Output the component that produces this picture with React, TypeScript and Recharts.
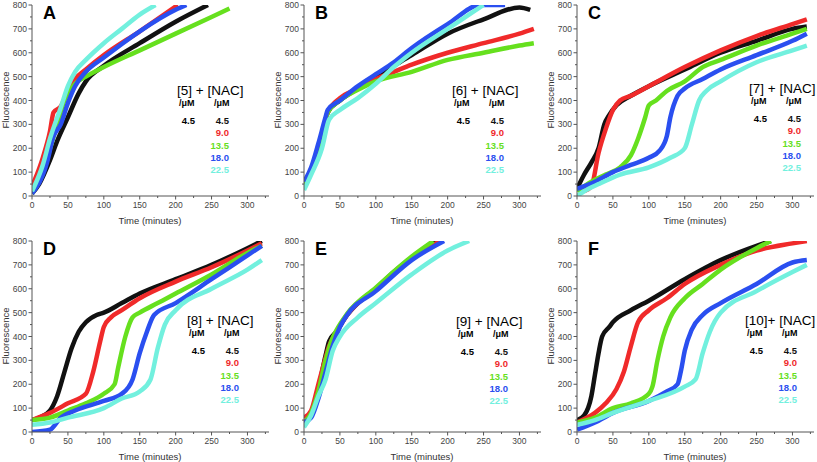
import React from 'react';
import { LineChart, Line, XAxis, YAxis } from 'recharts';

type Pt = [number, number];

// colors used for the five NAC concentrations
const seriesColors = ['#111111', '#f02a2a', '#66e01e', '#2a4ff0', '#72f0de'];
const nacLabels = ['4.5', '9.0', '13.5', '18.0', '22.5'];
const compoundLabels = ['[5] + [NAC]', '[6] + [NAC]', '[7] + [NAC]', '[8] + [NAC]', '[9] + [NAC]', '[10]+ [NAC]'];
const panelLetters = ['A', 'B', 'C', 'D', 'E', 'F'];
const xTicks = [0, 25, 50, 75, 100, 125, 150, 175, 200, 225, 250, 275, 300, 325];
const yTicks = [0, 50, 100, 150, 200, 250, 300, 350, 400, 450, 500, 550, 600, 650, 700, 750, 800];

// Panel A - [5]
const aBlack: Pt[] = [[0, 10], [10, 50], [25, 150], [35, 230], [50, 330], [65, 430], [75, 480], [100, 545], [150, 640], [200, 730], [245, 800]];
const aRed: Pt[] = [[0, 40], [15, 160], [25, 270], [30, 350], [40, 375], [50, 440], [60, 490], [75, 530], [100, 590], [150, 690], [203, 800]];
const aGreen: Pt[] = [[0, 10], [20, 150], [35, 300], [45, 400], [60, 470], [75, 500], [100, 540], [150, 610], [200, 680], [250, 750], [275, 785]];
const aBlue: Pt[] = [[0, 10], [20, 130], [30, 250], [40, 300], [50, 390], [60, 460], [75, 520], [100, 580], [150, 690], [200, 780], [215, 800]];
const aCyan: Pt[] = [[0, 20], [15, 130], [25, 240], [40, 370], [50, 460], [60, 520], [75, 570], [100, 640], [125, 700], [150, 760], [172, 800]];

// Panel B - [6]
const bBlack: Pt[] = [[0, 50], [15, 150], [25, 250], [33, 350], [50, 400], [75, 450], [100, 500], [150, 590], [200, 680], [250, 740], [300, 790], [315, 780]];
const bRed: Pt[] = [[0, 50], [15, 150], [25, 250], [33, 350], [50, 410], [75, 450], [100, 490], [125, 520], [150, 550], [200, 600], [250, 640], [300, 680], [320, 700]];
const bGreen: Pt[] = [[0, 50], [15, 150], [25, 250], [33, 350], [50, 400], [75, 445], [100, 480], [150, 520], [200, 570], [250, 600], [300, 630], [320, 640]];
const bBlue: Pt[] = [[0, 60], [10, 120], [20, 220], [30, 330], [33, 360], [50, 400], [75, 460], [100, 510], [125, 560], [150, 620], [200, 720], [246, 800], [280, 800]];
const bCyan: Pt[] = [[0, 25], [10, 90], [25, 200], [35, 320], [50, 360], [75, 410], [100, 470], [125, 540], [150, 600], [200, 700], [250, 800]];

// Panel C - [7]
const cBlack: Pt[] = [[0, 30], [10, 90], [20, 140], [30, 200], [38, 300], [45, 340], [55, 380], [75, 420], [100, 460], [150, 530], [200, 600], [250, 650], [300, 700], [320, 710]];
const cRed: Pt[] = [[10, 20], [20, 40], [30, 180], [40, 280], [50, 360], [60, 400], [75, 420], [100, 460], [150, 540], [200, 610], [250, 670], [300, 720], [320, 740]];
const cGreen: Pt[] = [[0, 20], [20, 60], [40, 90], [60, 120], [75, 170], [85, 240], [95, 330], [100, 380], [110, 400], [125, 440], [150, 480], [175, 540], [200, 570], [250, 630], [300, 680], [320, 700]];
const cBlue: Pt[] = [[0, 30], [25, 60], [50, 100], [75, 130], [100, 160], [115, 190], [125, 250], [130, 330], [140, 420], [150, 450], [175, 490], [200, 530], [250, 590], [300, 650], [320, 680]];
const cCyan: Pt[] = [[0, 0], [10, 20], [30, 50], [60, 90], [100, 120], [130, 160], [150, 200], [160, 300], [170, 400], [180, 440], [200, 480], [250, 560], [300, 610], [320, 630]];

// Panel D - [8]
const dBlack: Pt[] = [[0, 50], [10, 60], [25, 90], [35, 150], [45, 250], [55, 350], [65, 420], [75, 460], [90, 490], [100, 500], [125, 540], [150, 580], [200, 640], [250, 700], [300, 770], [320, 800]];
const dRed: Pt[] = [[0, 50], [25, 80], [50, 120], [75, 160], [85, 250], [95, 380], [100, 440], [110, 480], [125, 510], [150, 560], [200, 630], [250, 690], [300, 760], [320, 790]];
const dGreen: Pt[] = [[0, 50], [25, 60], [50, 90], [75, 120], [100, 160], [115, 200], [120, 270], [130, 400], [140, 480], [150, 500], [175, 540], [200, 580], [250, 660], [300, 750], [320, 780]];
const dBlue: Pt[] = [[0, 0], [25, 10], [40, 60], [60, 90], [100, 130], [125, 160], [140, 220], [150, 330], [160, 420], [170, 490], [200, 540], [250, 640], [300, 740], [320, 780]];
const dCyan: Pt[] = [[0, 30], [25, 40], [50, 60], [100, 100], [125, 140], [150, 170], [165, 220], [175, 350], [185, 450], [200, 510], [250, 600], [300, 680], [320, 720]];

// Panel E - [9]
const eBlack: Pt[] = [[0, 30], [10, 80], [20, 180], [30, 320], [35, 380], [45, 420], [60, 490], [75, 540], [100, 600], [125, 670], [150, 730], [175, 780], [185, 800]];
const eRed: Pt[] = [[0, 60], [10, 90], [20, 200], [30, 310], [35, 360], [45, 420], [60, 490], [100, 600], [150, 730], [190, 800]];
const eGreen: Pt[] = [[0, 40], [10, 80], [20, 170], [30, 300], [38, 380], [45, 425], [60, 495], [100, 605], [150, 735], [180, 800]];
const eBlue: Pt[] = [[0, 40], [10, 60], [20, 140], [30, 250], [40, 360], [50, 440], [60, 490], [100, 590], [150, 720], [195, 800]];
const eCyan: Pt[] = [[0, 20], [10, 70], [20, 150], [30, 220], [40, 340], [50, 400], [75, 480], [100, 540], [150, 660], [200, 760], [230, 800]];

// Panel F - [10]
const fBlack: Pt[] = [[0, 50], [10, 70], [20, 150], [25, 240], [30, 330], [35, 400], [45, 440], [50, 460], [75, 510], [100, 550], [150, 640], [200, 720], [250, 780], [270, 800]];
const fRed: Pt[] = [[0, 40], [25, 80], [40, 120], [55, 180], [65, 250], [75, 360], [85, 460], [100, 510], [125, 560], [150, 620], [200, 700], [250, 760], [300, 790], [320, 800]];
const fGreen: Pt[] = [[0, 40], [25, 60], [50, 100], [75, 120], [100, 160], [105, 190], [112, 300], [120, 400], [130, 480], [150, 560], [175, 620], [200, 680], [250, 770], [270, 800]];
const fBlue: Pt[] = [[0, 10], [25, 40], [50, 80], [100, 130], [125, 170], [140, 200], [145, 260], [150, 340], [160, 430], [175, 490], [200, 540], [250, 620], [300, 710], [320, 720]];
const fCyan: Pt[] = [[0, 30], [25, 50], [50, 80], [100, 130], [150, 190], [165, 220], [175, 330], [185, 420], [200, 500], [250, 590], [300, 670], [320, 700]];

const panelSeries: Pt[][][] = [
  [aBlack, aRed, aGreen, aBlue, aCyan],
  [bBlack, bRed, bGreen, bBlue, bCyan],
  [cBlack, cRed, cGreen, cBlue, cCyan],
  [dBlack, dRed, dGreen, dBlue, dCyan],
  [eBlack, eRed, eGreen, eBlue, eCyan],
  [fBlack, fRed, fGreen, fBlue, fCyan],
];

// where each panel sits, and where its legend block goes (panel-relative)
const panelPos = [
  { left: 0, top: 0, lx: 177, ly: 91 },
  { left: 272, top: 0, lx: 180, ly: 91 },
  { left: 545, top: 0, lx: 204, ly: 89 },
  { left: 0, top: 236, lx: 187, ly: 85 },
  { left: 272, top: 236, lx: 184, ly: 86 },
  { left: 545, top: 236, lx: 200, ly: 85 },
];

const FONT = '"Liberation Sans", Arial, sans-serif';
const W = 272;
const H = 231;

const XTick = (props: any) => {
  const { x, y, payload } = props;
  const major = payload.value % 50 === 0;
  return (
    <g>
      <line x1={x} x2={x} y1={y} y2={y + (major ? 3.5 : 2)} stroke="#555" />
      {major && (
        <text x={x} y={y + 11.5} textAnchor="middle" fontSize={8.5} fill="#444" fontFamily={FONT}>
          {payload.value}
        </text>
      )}
    </g>
  );
};

const YTick = (props: any) => {
  const { x, y, payload } = props;
  const major = payload.value % 100 === 0;
  return (
    <g>
      <line x1={x} x2={x - (major ? 3.5 : 2)} y1={y} y2={y} stroke="#555" />
      {major && (
        <text x={x - 5} y={y + 3} textAnchor="end" fontSize={8.5} fill="#444" fontFamily={FONT}>
          {payload.value}
        </text>
      )}
    </g>
  );
};

const abs = (left: number, top: number, extra: React.CSSProperties = {}): React.CSSProperties => ({
  position: 'absolute',
  left,
  top,
  fontFamily: FONT,
  whiteSpace: 'nowrap',
  lineHeight: 1,
  ...extra,
});

const Panel = ({ index }: { index: number }) => {
  const pos = panelPos[index];
  const series = panelSeries[index];
  return (
    <div style={{ position: 'absolute', left: pos.left, top: pos.top, width: W, height: H }}>
      <LineChart width={W} height={H} margin={{ top: 5, right: 3, left: 0, bottom: 0 }}>
        <XAxis
          type="number"
          dataKey="t"
          domain={[0, 330]}
          ticks={xTicks}
          interval={0}
          height={35}
          tickSize={0}
          tickMargin={0}
          tickLine={false}
          tick={<XTick />}
          stroke="#555"
          allowDataOverflow
        />
        <YAxis
          type="number"
          domain={[0, 800]}
          ticks={yTicks}
          interval={0}
          width={32}
          tickSize={0}
          tickMargin={0}
          tickLine={false}
          tick={<YTick />}
          stroke="#555"
          allowDataOverflow
        />
        {series.map((pts, i) => (
          <Line
            key={i}
            data={pts.map(([t, f]) => ({ t, f }))}
            dataKey="f"
            type="monotone"
            stroke={seriesColors[i]}
            strokeWidth={4.5}
            dot={false}
            isAnimationActive={false}
          />
        ))}
      </LineChart>

      <div style={abs(43, 4, { fontSize: 18, fontWeight: 'bold' })}>{panelLetters[index]}</div>
      <div style={abs(150, 216, { fontSize: 9.5, color: '#333', transform: 'translateX(-50%)' })}>Time (minutes)</div>
      <div style={abs(6, 100, { fontSize: 9.5, color: '#333', transform: 'translate(-50%, -50%) rotate(-90deg)' })}>
        Fluorescence
      </div>

      <div style={abs(pos.lx, pos.ly - 7, { fontSize: 13.5, lineHeight: '13px' })}>{compoundLabels[index]}</div>
      <div style={abs(pos.lx + 2, pos.ly + 8, { fontSize: 9, fontWeight: 'bold' })}>/μM</div>
      <div style={abs(pos.lx + 37, pos.ly + 8, { fontSize: 9, fontWeight: 'bold' })}>/μM</div>
      <div style={abs(pos.lx + 18, pos.ly + 25, { fontSize: 9.5, fontWeight: 'bold', transform: 'translateX(-100%)' })}>
        {nacLabels[0]}
      </div>
      {nacLabels.map((lbl, i) => (
        <div
          key={lbl}
          style={abs(pos.lx + 52, pos.ly + 25 + i * 12.3, {
            fontSize: 9.5,
            fontWeight: 'bold',
            color: seriesColors[i],
            transform: 'translateX(-100%)',
          })}
        >
          {lbl}
        </div>
      ))}
    </div>
  );
};

export default function App() {
  return (
    <div style={{ position: 'absolute', left: 0, top: 0, width: 817, height: 462, background: '#fff' }}>
      {panelPos.map((_, i) => (
        <Panel key={i} index={i} />
      ))}
    </div>
  );
}
